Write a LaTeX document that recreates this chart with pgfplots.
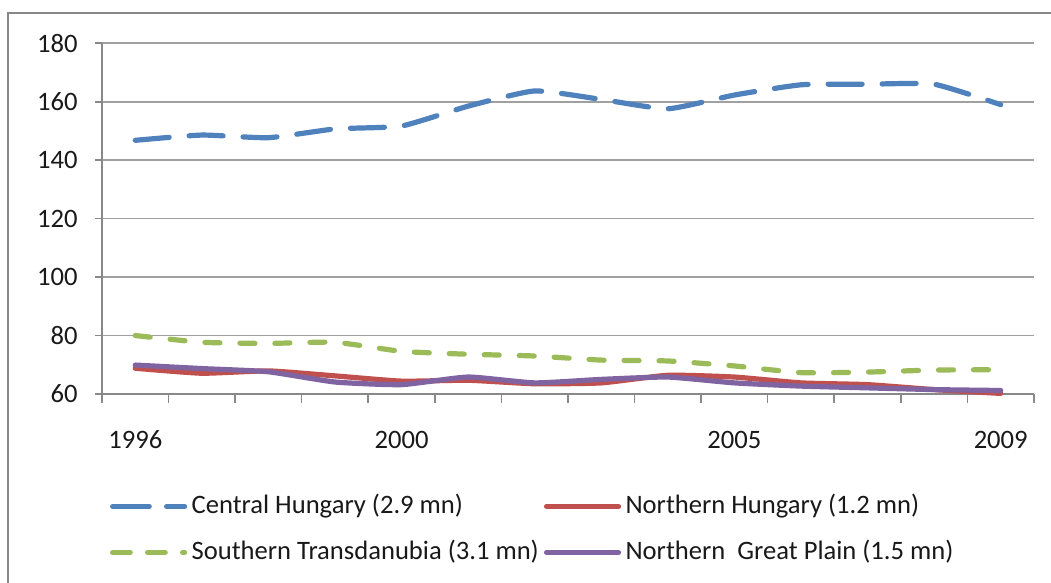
\documentclass[border=0pt]{standalone}
\usepackage{pgfplots}
\pgfplotsset{compat=1.18}
\usepackage{fontspec}
\setmainfont{Carlito}
\definecolor{cblue}{HTML}{4F81BD}
\definecolor{cred}{HTML}{C0504D}
\definecolor{cgreen}{HTML}{9BBB59}
\definecolor{cpurple}{HTML}{8064A2}
\definecolor{gridgray}{HTML}{A0A0A0}
\definecolor{axgray}{HTML}{888888}
\begin{document}
\begin{tikzpicture}[x=1pt,y=1pt]
\useasboundingbox (0,0) rectangle (525.5,291.5);
\draw[color=axgray, line width=1.1pt] (4,0) -- (4,285) -- (525.5,285);
\begin{axis}[
  at={(51pt,94.5pt)}, anchor=south west,
  scale only axis, width=466pt, height=175.35pt,
  xmin=1995.5, xmax=2009.5, ymin=60, ymax=180,
  clip=false,
  axis x line*=bottom, axis y line*=left,
  axis line style={color=axgray, line width=0.8pt},
  ytick={60,80,...,180},
  xtick={1996,2000,2005,2009},
  xticklabels={1996,2000,2005,2009},
  minor xtick={1995.5,1996.5,...,2009.5},
  tick align=outside,
  major tick length=3.5pt, minor tick length=4.5pt,
  x tick style={draw=none},
  minor x tick style={draw=axgray, line width=0.8pt},
  y tick style={draw=axgray, line width=0.8pt},
  ymajorgrids, grid style={color=gridgray, line width=0.8pt},
  /pgf/number format/assume math mode=true,
  ticklabel style={font=\fontsize{13.3}{15}\selectfont, text=black!90},
  yticklabel style={anchor=east, inner sep=0pt, xshift=-8.5pt},
  xticklabel style={anchor=center, inner sep=0pt, yshift=-19.5pt},
  legend columns=2,
  legend style={at={(axis description cs:0.0086,-0.29)}, anchor=north west,
    draw=none, fill=none, inner sep=0pt, outer sep=0pt,
    font=\fontsize{13.3}{15}\selectfont,
    nodes={inner sep=0pt, text height=9pt, text depth=3pt, anchor=base west, text=black!90},
    row sep=11pt,
    /tikz/every odd column/.append style={column sep=2.2pt},
    /tikz/every even column/.append style={column sep=2.5pt}},
  legend image code/.code={\path (0pt,3.6pt) -- (36pt,3.6pt);\draw[#1] (1.3pt,3.6pt) -- (34.7pt,3.6pt);},
  every axis plot/.append style={line width=2.6pt, line cap=round, line join=round, smooth, tension=0.3},
]
\addplot[color=cblue, dash pattern=on 17pt off 10pt] coordinates {
(1996,146.8) (1997,148.6) (1998,147.7) (1999,150.7) (2000,151.7) (2001,158.5) (2002,163.7)
(2003,160.8) (2004,157.6) (2005,162.3) (2006,165.8) (2007,166) (2008,166) (2009,159)};
\addlegendentry{Central Hungary (2.9 mn)}
\addplot[color=cred] coordinates {
(1996,68.8) (1997,67.1) (1998,67.9) (1999,66.2) (2000,64.4) (2001,64.7) (2002,63.5)
(2003,63.8) (2004,66.4) (2005,65.8) (2006,63.8) (2007,63.2) (2008,61.5) (2009,60.2)};
\addlegendentry{Northern Hungary (1.2 mn)}
\addplot[color=cgreen, dash pattern=on 7.5pt off 10pt] coordinates {
(1996,80) (1997,77.7) (1998,77.3) (1999,77.7) (2000,74.6) (2001,73.6) (2002,73)
(2003,71.6) (2004,71.3) (2005,69.6) (2006,67.3) (2007,67.5) (2008,68.2) (2009,68.3)};
\addlegendentry{Southern Transdanubia (3.1 mn)}
\addplot[color=cpurple] coordinates {
(1996,69.9) (1997,68.7) (1998,67.6) (1999,64.1) (2000,63.2) (2001,65.8) (2002,63.8)
(2003,65) (2004,65.8) (2005,63.8) (2006,62.7) (2007,62.1) (2008,61.5) (2009,61.2)};
\addlegendentry{Northern\ \ Great Plain (1.5 mn)}
\end{axis}
\end{tikzpicture}
\end{document}
